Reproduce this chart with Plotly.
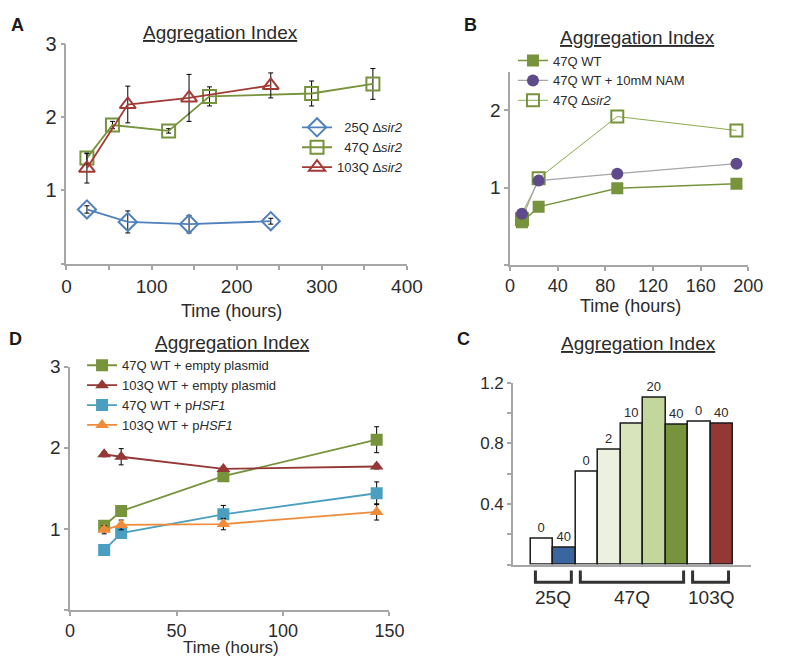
import plotly.graph_objects as go

FONT = "Liberation Sans, Arial, sans-serif"
TXT = "#2b2b2b"
AXIS = "#a6a6a6"
W, H = 785, 664
OFF = 8                      # default page margin around the plot div
FW, FH = W - 2 * OFF, H - 2 * OFF

# ---- panel A : delta sir2 strains
a_t25 = [24, 72, 144, 240]
a_y25 = [0.74, 0.57, 0.54, 0.58]
a_e25 = [0.05, 0.15, 0.12, 0.04]
a_t47 = [24, 54, 120, 168, 288, 360]
a_y47 = [1.44, 1.89, 1.81, 2.28, 2.32, 2.45]
a_e47 = [0.07, 0.05, 0.03, 0.13, 0.17, 0.21]
a_t103 = [24, 72, 144, 240]
a_y103 = [1.30, 2.17, 2.26, 2.43]
a_e103 = [0.20, 0.25, 0.32, 0.17]

# ---- panel B : 47Q WT / NAM / delta sir2
b_t = [10, 24, 90, 190]
b_wt = [0.55, 0.75, 0.99, 1.05]
b_nam = [0.66, 1.09, 1.18, 1.31]
b_sir2 = [0.59, 1.12, 1.92, 1.74]

# ---- panel D : empty plasmid vs pHSF1
d_t = [16, 24, 72, 144]
d_47_empty = [1.04, 1.22, 1.65, 2.10]
d_47_empty_err = [0.06, 0.04, 0.04, 0.16]
d_103_empty = [1.92, 1.89, 1.74, 1.77]
d_103_empty_err = [0.03, 0.10, 0.03, 0.03]
d_47_hsf = [0.74, 0.95, 1.18, 1.44]
d_47_hsf_err = [0.03, 0.04, 0.11, 0.14]
d_103_hsf = [0.99, 1.05, 1.06, 1.21]
d_103_hsf_err = [0.05, 0.06, 0.07, 0.10]

# ---- panel C : bars
c_group = ["25Q", "25Q", "47Q", "47Q", "47Q", "47Q", "47Q", "103Q", "103Q"]
c_conc = ["0", "40", "0", "2", "10", "20", "40", "0", "40"]
c_vals = [0.17, 0.11, 0.61, 0.76, 0.93, 1.10, 0.92, 0.94, 0.93]
c_fill = ["#ffffff", "#3a66a0", "#ffffff", "#ebf1de", "#d7e4bc",
          "#c3d69b", "#77933c", "#ffffff", "#953735"]


def px_x(p):
    return (p - OFF) / FW


def px_y(p):
    return 1 - (p - OFF) / FH


def axis(dom, rng, anchor, tickvals, ticktext, size, standoff=0):
    return dict(domain=dom, range=rng, anchor=anchor, showline=True,
                linecolor=AXIS, linewidth=1.5, ticks="outside", ticklen=4,
                tickwidth=1.5, tickcolor=AXIS, tickvals=tickvals,
                ticktext=ticktext, showgrid=False, zeroline=False,
                ticklabelstandoff=standoff,
                tickfont=dict(size=size, color=TXT, family=FONT))


def err(v):
    return dict(type="data", array=v, color="black", thickness=1, width=2.5)


def note(x, y, text, size, color=TXT):
    return dict(x=px_x(x), y=px_y(y), xref="paper", yref="paper", showarrow=False,
                xanchor="center", yanchor="middle", text=text,
                font=dict(size=size, color=color, family=FONT))


fig = go.Figure()

# panel A
fig.add_trace(go.Scatter(x=a_t25, y=a_y25, error_y=err(a_e25), mode="lines+markers",
                         name="\u00a0\u00a025Q \u0394<i>sir2</i>",
                         line=dict(color="#4f81bd", width=1.8),
                         marker=dict(symbol="diamond-open", size=14, line=dict(width=2)),
                         legend="legend"))
fig.add_trace(go.Scatter(x=a_t47, y=a_y47, error_y=err(a_e47), mode="lines+markers",
                         name="\u00a0\u00a047Q \u0394<i>sir2</i>",
                         line=dict(color="#77933c", width=1.8),
                         marker=dict(symbol="square-open", size=13, line=dict(width=2)),
                         legend="legend"))
fig.add_trace(go.Scatter(x=a_t103, y=a_y103, error_y=err(a_e103), mode="lines+markers",
                         name="103Q \u0394<i>sir2</i>",
                         line=dict(color="#a33a36", width=1.8),
                         marker=dict(symbol="triangle-up-open", size=14, line=dict(width=2)),
                         legend="legend"))

# panel B
fig.add_trace(go.Scatter(x=b_t, y=b_sir2, mode="lines+markers", name="47Q \u0394<i>sir2</i>",
                         line=dict(color="#8aab4c", width=1),
                         marker=dict(symbol="square-open", size=12, color="#77933c", line=dict(width=2)),
                         xaxis="x2", yaxis="y2", legend="legend2", legendrank=3))
fig.add_trace(go.Scatter(x=b_t, y=b_wt, mode="lines+markers", name="47Q WT",
                         line=dict(color="#77933c", width=1.5),
                         marker=dict(symbol="square", size=12, color="#77933c"),
                         xaxis="x2", yaxis="y2", legend="legend2", legendrank=1))
fig.add_trace(go.Scatter(x=b_t, y=b_nam, mode="lines+markers", name="47Q WT + 10mM NAM",
                         line=dict(color="#a6a6a6", width=1.2),
                         marker=dict(symbol="circle", size=12, color="#5f4b8b", line=dict(width=0)),
                         xaxis="x2", yaxis="y2", legend="legend2", legendrank=2))

# panel D
for ys, e, nm, col, sym in [
    (d_47_empty, d_47_empty_err, "47Q WT + empty plasmid", "#77933c", "square"),
    (d_103_empty, d_103_empty_err, "103Q WT + empty plasmid", "#953735", "triangle-up"),
    (d_47_hsf, d_47_hsf_err, "47Q WT + p<i>HSF1</i>", "#4a9fc0", "square"),
    (d_103_hsf, d_103_hsf_err, "103Q WT + p<i>HSF1</i>", "#ef8c3c", "triangle-up"),
]:
    fig.add_trace(go.Scatter(x=d_t, y=ys, error_y=err(e), mode="lines+markers", name=nm,
                             line=dict(color=col, width=1.8),
                             marker=dict(symbol=sym, size=12, color=col),
                             xaxis="x3", yaxis="y3", legend="legend3"))

# panel C
c_pos = list(range(len(c_vals)))
fig.add_trace(go.Bar(x=c_pos, y=c_vals, width=1, text=c_conc, textposition="outside",
                     textfont=dict(size=13, color=TXT, family=FONT), cliponaxis=False,
                     constraintext="none",
                     marker=dict(color=c_fill, line=dict(color="#1a1a1a", width=1.5)),
                     xaxis="x4", yaxis="y4", showlegend=False, hoverinfo="skip"))

shapes = []
annotations = []
groups = []
for i, g in enumerate(c_group):
    if not groups or groups[-1][0] != g:
        groups.append([g, i, i])
    else:
        groups[-1][2] = i
for g, i0, i1 in groups:
    x0, x1 = i0 - 0.3, i1 + 0.3
    shapes.append(dict(type="path", xref="x4", yref="paper",
                       path=f"M{x0},{px_y(569)} L{x0},{px_y(581)} L{x1},{px_y(581)} L{x1},{px_y(569)}",
                       line=dict(color="#333333", width=3)))
    annotations.append(dict(x=(i0 + i1) / 2, y=px_y(596), xref="x4", yref="paper",
                            xanchor="center", yanchor="middle", text=g, showarrow=False,
                            font=dict(size=19, color=TXT, family=FONT)))

for x, y in [(221, 22), (650, 27), (234, 337), (651, 338)]:
    annotations.append(note(x, y, "<u>Aggregation Index</u>", 19))
for x, y, s in [(233, 305, 18), (643, 300, 18), (232, 647, 17)]:
    annotations.append(note(x, y, "Time (hours)", s))
for lab, x, y in [("A", 13, 14), ("B", 478, 14), ("D", 11, 334), ("C", 471, 334)]:
    annotations.append(note(x, y, f"<b>{lab}</b>", 18, color="#1a1a1a"))

leg = dict(xanchor="left", yanchor="top", bgcolor="rgba(0,0,0,0)",
           font=dict(size=13, color=TXT, family=FONT), itemwidth=30, traceorder="normal")

fig.update_layout(
    width=FW, height=FH,
    margin=dict(l=0, r=0, t=0, b=0),
    paper_bgcolor="white", plot_bgcolor="white",
    font=dict(family=FONT, color=TXT),
    bargap=0,
    xaxis=axis([px_x(63), px_x(413)], [0, 400], "y", list(range(0, 401, 50)),
               ["0", "", "100", "", "200", "", "300", "", "400"], 19, 1),
    yaxis=axis([px_y(257), px_y(33)], [0, 3], "x", [0, 1, 2, 3], ["", "1", "2", "3"], 20),
    xaxis2=axis([px_x(519), px_x(764)], [0, 200], "y2", list(range(0, 201, 40)),
                [str(v) for v in range(0, 201, 40)], 18, 0),
    yaxis2=axis([px_y(258), px_y(61.7)], [0, 2.5], "x2", [0, 1, 2], ["", "1", "2"], 19),
    xaxis3=axis([px_x(66.7), px_x(395)], [0, 150], "y3", [0, 50, 100, 150],
                ["0", "50", "100", "150"], 18),
    yaxis3=axis([px_y(609.3), px_y(361.7)], [0, 3], "x3", [0, 1, 2, 3], ["", "1", "2", "3"], 19),
    xaxis4=dict(domain=[px_x(522), px_x(766.7)], range=[-1.3, 9.3], anchor="y4",
                showline=True, linecolor=AXIS, linewidth=1.5, showticklabels=False,
                ticks="", showgrid=False, zeroline=False),
    yaxis4=axis([px_y(563), px_y(378)], [0, 1.2], "x4", [0, 0.2, 0.4, 0.6, 0.8, 1.0, 1.2],
                ["", "", "0.4", "", "0.8", "", "1.2"], 17),
    legend=dict(leg, x=px_x(300), y=px_y(103)),
    legend2=dict(leg, x=px_x(522), y=px_y(35)),
    legend3=dict(leg, x=px_x(79), y=px_y(345)),
    shapes=shapes,
    annotations=annotations,
)

fig.write_html("out.html")
